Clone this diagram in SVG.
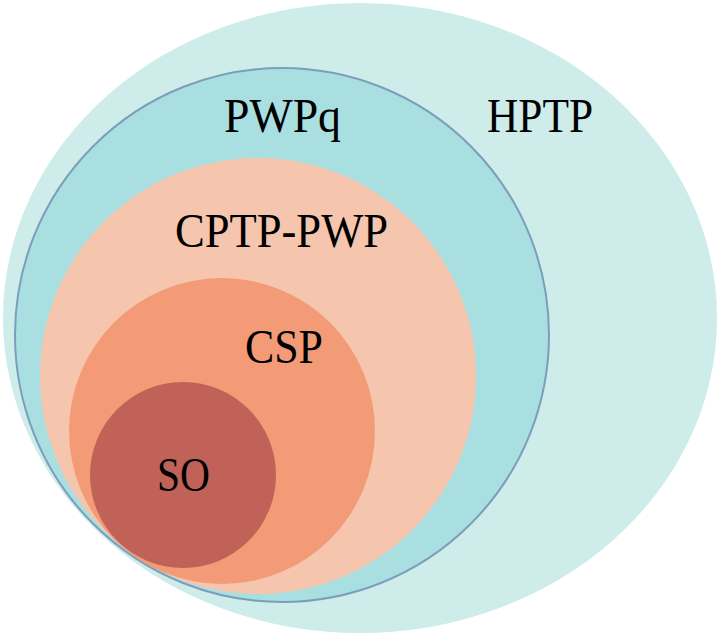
<svg xmlns="http://www.w3.org/2000/svg" width="720" height="638" viewBox="0 0 720 638">
<style>
text{font-family:"Liberation Serif","Times New Roman",serif;font-size:48px;fill:#000}
</style>
<rect width="720" height="638" fill="#ffffff"/>
<g id="HPTP">
<ellipse cx="360" cy="318" rx="357" ry="315" fill="#cdecea"/>
<text x="487" y="132" textLength="106" lengthAdjust="spacingAndGlyphs">HPTP</text>
</g>
<g id="PWPq">
<circle cx="282" cy="335" r="267" fill="#a9dfe0" stroke="#7b9fba" stroke-width="2"/>
<text x="224" y="132" textLength="117" lengthAdjust="spacingAndGlyphs">PWPq</text>
</g>
<g id="CPTP-PWP">
<circle cx="258" cy="376" r="218" fill="#f5c6ad"/>
<text x="175" y="247" textLength="213" lengthAdjust="spacingAndGlyphs">CPTP-PWP</text>
</g>
<g id="CSP">
<circle cx="222" cy="431" r="153" fill="#f39a77"/>
<text x="245" y="363" textLength="78" lengthAdjust="spacingAndGlyphs">CSP</text>
</g>
<g id="SO">
<circle cx="183" cy="475" r="93" fill="#c06258"/>
<text x="157" y="491" textLength="53" lengthAdjust="spacingAndGlyphs">SO</text>
</g>
<g id="connectors"/>
</svg>
